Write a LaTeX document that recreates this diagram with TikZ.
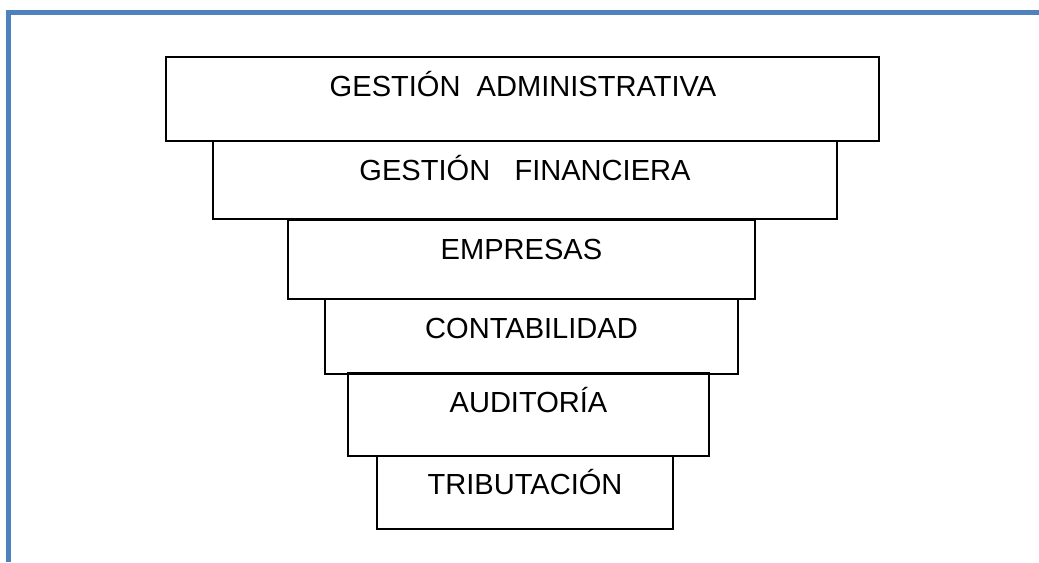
\documentclass[tikz,border=0pt]{standalone}
\usepackage{fontspec}
\setmainfont{Liberation Sans}
\usepackage{tikz}
\definecolor{frameblue}{RGB}{79,129,189}

\begin{document}
\begin{tikzpicture}[x=0.75pt, y=-0.75pt,
	level/.style={draw=black, line width=1.1pt},
	tag/.style={font=\fontsize{21.8}{26}\selectfont, inner sep=0pt, anchor=base}]
	\useasboundingbox (0,0) rectangle (1039,562);
	\draw[frameblue, line width=3.8pt] (8.5,562) -- (8.5,12.5) -- (1039,12.5);

	\draw[level] (166,57) rectangle (879,141);
	\draw[level] (213,141) rectangle (837,219);
	\draw[level] (288,220) rectangle (755,299);
	\draw[level] (325,299) rectangle (738,374);
	\draw[level] (348,373) rectangle (709,456);
	\draw[level] (377,456) rectangle (673,529);

	\node[tag] (admin)  at (523,96.5)  {GESTIÓN\ \ ADMINISTRATIVA};
	\node[tag] (finan)  at (525,180)   {GESTIÓN\ \ \ FINANCIERA};
	\node[tag] (empr)   at (521.5,259) {EMPRESAS};
	\node[tag] (conta)  at (531.5,338) {CONTABILIDAD};
	\node[tag] (audit)  at (528.5,412) {AUDITORÍA};
	\node[tag] (tribu)  at (525,494)   {TRIBUTACIÓN};
\end{tikzpicture}
\end{document}
